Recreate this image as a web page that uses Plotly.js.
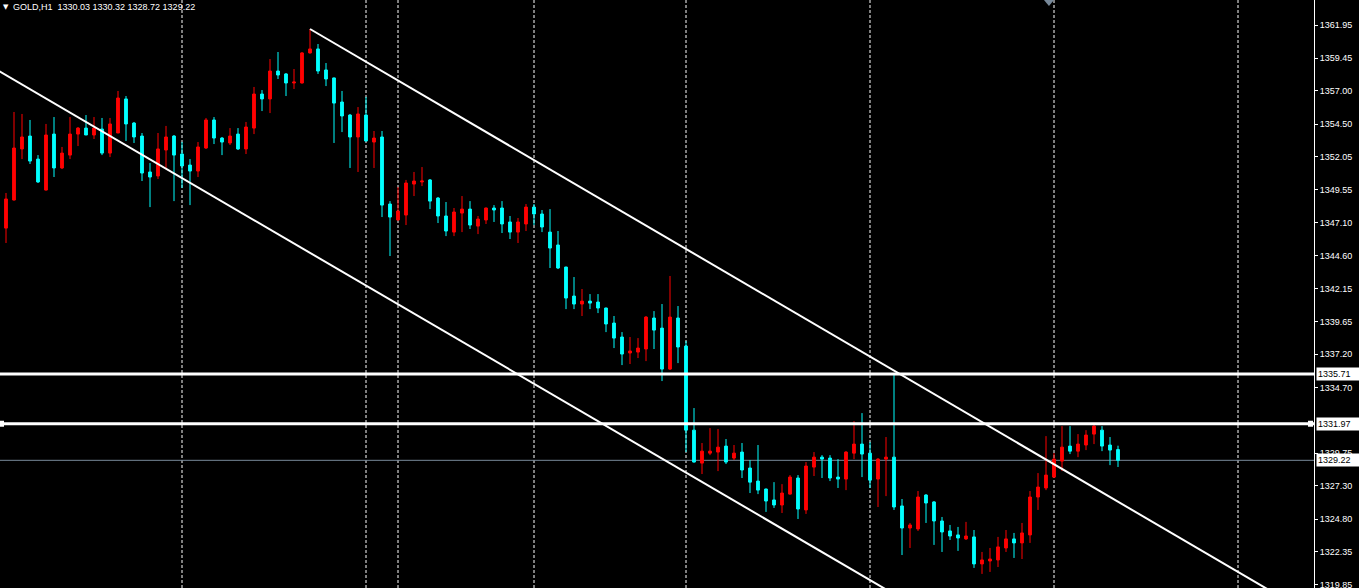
<!DOCTYPE html>
<html><head><meta charset="utf-8">
<script src="https://cdn.plot.ly/plotly-3.0.1.min.js"></script>
<style>html,body{margin:0;padding:0;background:#000;overflow:hidden}#chart{width:1359px;height:588px}</style>
</head><body><div id="chart"></div>
<script>
// H1 bars, oldest (partly hidden) first
const barOpen = [1348.41,1346.68,1348.79,1352.63,1353.60,1351.87,1349.54,1353.75,1351.20,1352.17,1353.75,1354.20,1353.68,1354.13,1352.32,1353.83,1356.39,1354.58,1353.60,1350.90,1350.60,1352.55,1353.60,1352.25,1351.42,1350.97,1352.70,1354.81,1353.45,1353.08,1353.75,1352.63,1354.20,1356.76,1356.39,1358.49,1358.27,1357.59,1357.59,1359.85,1360.15,1358.57,1357.97,1356.16,1355.18,1353.53,1355.18,1353.15,1353.53,1348.49,1347.29,1347.66,1349.99,1350.15,1350.30,1348.94,1347.59,1346.38,1347.81,1348.11,1346.83,1347.29,1348.19,1348.19,1347.14,1346.38,1346.99,1348.26,1347.74,1346.38,1345.41,1343.75,1341.57,1340.97,1341.19,1341.12,1340.67,1339.54,1338.49,1337.29,1337.36,1337.59,1339.92,1339.16,1336.08,1339.92,1337.81,1331.49,1329.01,1329.76,1329.84,1330.29,1329.39,1329.84,1328.64,1327.66,1327.06,1326.24,1325.86,1326.68,1327.89,1325.49,1328.71,1329.46,1329.39,1327.96,1327.81,1329.76,1330.44,1329.76,1327.81,1329.31,1329.46,1325.79,1324.13,1324.06,1326.61,1326.09,1324.66,1323.91,1323.61,1323.31,1323.46,1321.43,1321.65,1321.73,1322.63,1323.31,1323.01,1323.61,1326.46,1327.14,1327.96,1329.16,1330.29,1329.91,1330.37,1331.19,1331.49,1330.37,1330.03];
const barHigh = [1348.56,1349.32,1355.41,1355.26,1354.81,1352.17,1354.51,1355.03,1352.78,1355.03,1354.28,1355.18,1355.03,1354.96,1354.96,1356.99,1356.61,1354.66,1353.83,1351.57,1353.83,1354.36,1353.68,1353.15,1351.87,1353.15,1354.96,1355.03,1353.53,1354.20,1354.20,1354.66,1357.29,1357.06,1359.39,1359.92,1358.34,1358.64,1359.92,1361.65,1360.52,1359.09,1358.00,1356.99,1355.26,1355.78,1356.54,1353.98,1353.98,1348.71,1349.77,1350.30,1350.90,1351.27,1350.37,1349.02,1348.64,1348.19,1349.09,1348.71,1347.59,1348.22,1348.41,1348.71,1347.59,1347.44,1348.49,1348.49,1348.04,1348.11,1346.46,1343.78,1343.00,1342.10,1341.72,1341.72,1340.70,1340.07,1338.86,1338.49,1338.41,1340.07,1340.44,1340.97,1343.08,1340.82,1338.19,1333.15,1330.52,1331.64,1331.57,1330.82,1330.37,1330.52,1329.24,1330.37,1327.10,1327.58,1327.43,1328.11,1328.11,1329.09,1329.84,1329.61,1329.61,1329.31,1329.91,1332.17,1332.77,1330.59,1329.39,1330.97,1335.71,1326.31,1324.51,1326.91,1326.68,1326.16,1324.96,1324.36,1324.21,1324.59,1323.98,1322.33,1322.63,1323.46,1323.98,1323.76,1324.51,1326.91,1328.26,1331.04,1329.76,1331.79,1331.79,1331.19,1331.49,1331.94,1331.79,1330.97,1330.32];
const barLow = [1346.53,1345.56,1348.75,1351.87,1351.50,1350.07,1349.50,1350.52,1351.12,1351.87,1352.85,1353.68,1353.38,1352.17,1352.02,1353.83,1353.23,1353.08,1350.22,1348.26,1350.37,1351.20,1348.71,1349.69,1348.41,1350.52,1352.63,1353.00,1352.17,1352.93,1352.55,1352.25,1353.75,1355.48,1355.33,1357.89,1356.61,1357.14,1357.55,1359.80,1358.27,1357.36,1353.08,1353.90,1351.20,1350.90,1353.20,1351.20,1347.51,1344.58,1347.25,1346.91,1349.09,1349.84,1348.11,1347.06,1346.08,1346.08,1346.38,1346.61,1346.23,1346.99,1347.14,1346.31,1345.86,1345.56,1346.46,1346.91,1346.38,1343.68,1343.60,1340.59,1340.59,1340.07,1340.59,1340.29,1338.86,1337.66,1336.38,1336.46,1336.91,1336.68,1337.59,1335.18,1336.01,1336.53,1329.84,1329.05,1328.19,1329.61,1328.41,1328.94,1329.24,1327.89,1326.76,1326.68,1325.34,1325.64,1325.26,1326.64,1324.81,1325.19,1328.04,1327.89,1327.66,1327.14,1326.98,1329.31,1327.96,1327.14,1325.71,1326.53,1325.49,1322.10,1322.63,1323.91,1324.51,1322.86,1322.33,1323.23,1322.41,1323.23,1321.13,1320.68,1320.83,1321.20,1322.33,1321.88,1321.80,1323.01,1325.49,1326.98,1327.89,1328.41,1329.69,1329.46,1329.99,1330.44,1329.91,1328.86,1328.72];
const barClose = [1346.68,1348.87,1352.70,1353.53,1351.72,1350.15,1353.68,1351.20,1352.32,1353.75,1354.20,1353.68,1354.20,1352.32,1354.51,1356.46,1354.51,1353.53,1350.82,1350.52,1352.63,1353.53,1352.17,1351.35,1350.97,1352.78,1354.81,1353.45,1353.15,1353.60,1352.63,1354.28,1356.76,1356.39,1358.49,1358.19,1357.59,1357.66,1359.85,1360.15,1358.49,1357.89,1356.08,1355.11,1353.53,1355.26,1353.23,1353.45,1348.41,1347.51,1347.96,1350.07,1350.22,1350.22,1348.71,1347.59,1346.46,1347.89,1348.11,1346.91,1347.36,1348.19,1348.04,1346.99,1346.38,1347.14,1348.26,1347.74,1346.76,1345.18,1343.68,1341.42,1340.97,1341.19,1341.04,1340.67,1339.47,1338.41,1337.21,1337.44,1337.66,1339.99,1339.01,1336.08,1339.99,1337.74,1331.49,1329.09,1329.91,1329.91,1330.21,1329.09,1329.76,1328.49,1327.58,1326.98,1326.16,1325.86,1326.76,1327.96,1325.56,1328.79,1329.46,1329.31,1327.89,1327.81,1329.84,1330.44,1329.69,1327.73,1329.31,1329.46,1325.71,1324.13,1324.36,1326.46,1326.01,1324.66,1323.83,1323.53,1323.38,1323.53,1321.43,1321.73,1321.80,1322.71,1323.31,1323.01,1323.76,1326.46,1327.21,1328.11,1329.31,1330.21,1329.91,1330.44,1331.12,1331.79,1330.29,1329.99,1329.22];
const barIndex = barOpen.map((_, i) => i - 1);

// drawn objects
const chanUpperX = [38, 170];
const chanUpperY = [1361.65, 1315.20];
const chanLowerX = [-3, 125];
const chanLowerY = [1359.23, 1314.24];
const levelPrices = [1335.71, 1331.97];
const bidPrice = 1329.22;
const separatorBars = [22, 45, 49, 66, 85, 108, 131, 154];

// axis
const tickVals = [1361.95,1359.45,1357.00,1354.50,1352.05,1349.55,1347.10,1344.60,1342.15,1339.65,1337.20,1334.70,1329.75,1327.30,1324.80,1322.35,1319.85];
const tickText = tickVals.map(v => v.toFixed(2));
const headerText = 'GOLD,H1\u00a0\u00a01330.03 1330.32 1328.72 1329.22';

const traces = [
  {type:'candlestick', x:barIndex, open:barOpen, high:barHigh, low:barLow, close:barClose,
   increasing:{line:{color:'#ff0000', width:1}, fillcolor:'#ff0000'},
   decreasing:{line:{color:'#00ffff', width:1}, fillcolor:'#00ffff'},
   whiskerwidth:0, hoverinfo:'skip', showlegend:false},
  {type:'scatter', mode:'lines', x:chanUpperX, y:chanUpperY, line:{color:'#ffffff', width:2}, hoverinfo:'skip', showlegend:false},
  {type:'scatter', mode:'lines', x:chanLowerX, y:chanLowerY, line:{color:'#ffffff', width:2}, hoverinfo:'skip', showlegend:false}
];

const shapes = [];
separatorBars.forEach(b => shapes.push({type:'line', xref:'x', yref:'paper', x0:b, x1:b, y0:0, y1:1, layer:'below', line:{color:'#ffffff', width:1, dash:'3px,2px'}}));
levelPrices.forEach(p => shapes.push({type:'line', xref:'paper', yref:'y', x0:0, x1:1, y0:p, y1:p, line:{color:'#ffffff', width:3}}));
shapes.push({type:'line', xref:'paper', yref:'y', x0:0, x1:1, y0:bidPrice, y1:bidPrice, layer:'below', line:{color:'#778899', width:1}});
// selection squares on second level
[0, 1].forEach(px => shapes.push({type:'rect', xref:'paper', yref:'y', xsizemode:'pixel', ysizemode:'pixel', xanchor:px, yanchor:levelPrices[1], x0:px === 0 ? 0 : -6, x1:px === 0 ? 4 : -1, y0:-3, y1:3, fillcolor:'#ffffff', line:{width:0}}));
// chart-shift marker
shapes.push({type:'path', xref:'paper', yref:'paper', xsizemode:'pixel', ysizemode:'pixel', xanchor:0.7983, yanchor:1, path:'M-5,0 L5,0 L0,-6 Z', fillcolor:'#778899', line:{width:0}});

const annotations = [
  {xref:'paper', yref:'paper', x:0, y:1, xanchor:'left', yanchor:'middle', xshift:1, yshift:-7, text:'▼', showarrow:false, font:{family:'DejaVu Sans', size:7, color:'#ffffff'}},
  {xref:'paper', yref:'paper', x:0, y:1, xanchor:'left', yanchor:'middle', xshift:11, yshift:-7, text:headerText, showarrow:false, font:{family:'Liberation Sans', size:9, color:'#ffffff'}}
];
levelPrices.concat([bidPrice]).forEach(p => annotations.push({xref:'paper', yref:'y', x:1, y:p, xanchor:'left', yanchor:'middle', xshift:2, text:p.toFixed(2), showarrow:false, bgcolor:'#ffffff', borderpad:1, width:40, align:'left', font:{family:'Liberation Sans', size:9, color:'#000000'}}));

const layout = {
  width:1359, height:588,
  margin:{l:0, r:45, t:0, b:0, pad:0},
  paper_bgcolor:'#000000', plot_bgcolor:'#000000',
  showlegend:false, boxgap:0.5,
  xaxis:{range:[-0.75, 163.5], visible:false, fixedrange:true, rangeslider:{visible:false}},
  yaxis:{range:[1319.62, 1363.83], side:'right', showgrid:false, zeroline:false, showline:true, linecolor:'#ffffff', linewidth:1,
         ticks:'outside', ticklen:3, tickcolor:'#ffffff', tickvals:tickVals, ticktext:tickText, ticklabeloverflow:'allow',
         tickfont:{family:'Liberation Sans', size:9, color:'#ffffff'}, fixedrange:true},
  shapes:shapes, annotations:annotations
};

Plotly.newPlot('chart', traces, layout, {staticPlot:true, displayModeBar:false});
</script></body></html>
